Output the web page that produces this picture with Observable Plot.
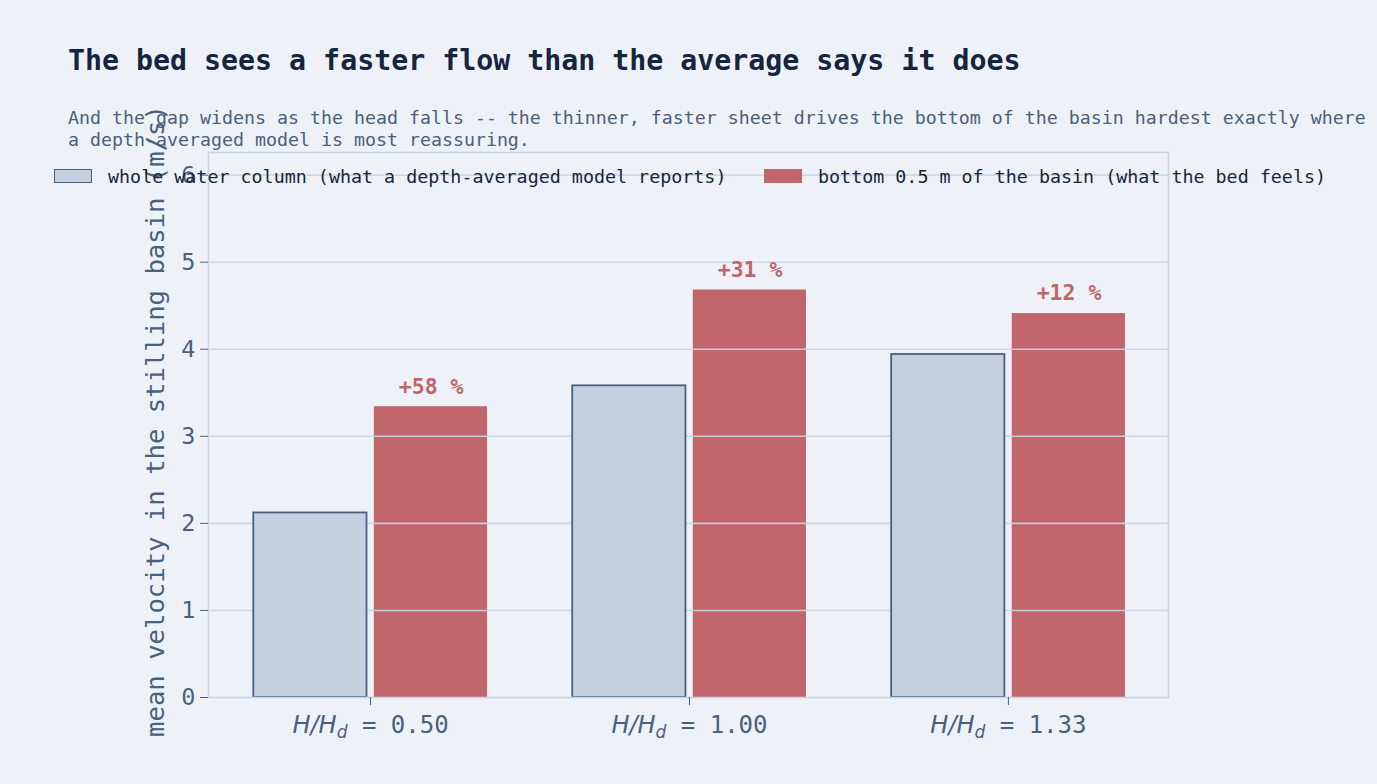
<!DOCTYPE html>
<html>
<head>
<meta charset="utf-8">
<script src="https://cdn.jsdelivr.net/npm/d3@7"></script>
<script src="https://cdn.jsdelivr.net/npm/@observablehq/plot@0.6"></script>
<style>
  html, body { margin: 0; padding: 0; background: #eef2f8; }
  #wrap { position: relative; width: 1377px; height: 784px; overflow: hidden; background: #eef2f8; }
  #chart { position: absolute; left: 0; top: 0; }
  .title { position: absolute; left: 68px; top: 44px; font-family: "DejaVu Sans Mono", monospace; font-weight: bold; font-size: 28.25px; color: #14263f; white-space: nowrap; }
  .subtitle { position: absolute; left: 68px; top: 107px; font-family: "DejaVu Sans Mono", monospace; font-size: 18.28px; line-height: 22px; color: #4a607e; white-space: nowrap; }
  .legend { position: absolute; top: 165px; left: 0; font-family: "DejaVu Sans Mono", monospace; font-size: 18.35px; color: #14263f; white-space: nowrap; }
  .legend .item { position: absolute; top: 0; display: flex; align-items: center; height: 22px; }
  .legend .sw { display: inline-block; width: 38px; height: 12px; margin-right: 16px; }
</style>
</head>
<body>
<div id="wrap">
  <div id="chart"></div>
  <div class="title">The bed sees a faster flow than the average says it does</div>
  <div class="subtitle">And the gap widens as the head falls -- the thinner, faster sheet drives the bottom of the basin hardest exactly where<br>a depth-averaged model is most reassuring.</div>
  <div class="legend" id="legend"></div>
</div>
<script>
// ---- data ----
const ratios = ["0.50", "1.00", "1.33"];          // H/Hd categories
const wholeColumn = [2.12, 3.58, 3.94];           // m/s, depth-averaged
const bottomLayer = [3.34, 4.68, 4.41];           // m/s, bottom 0.5 m
const gainPct = [58, 31, 12];                     // % labels
const seriesNames = [
  "whole water column (what a depth-averaged model reports)",
  "bottom 0.5 m of the basin (what the bed feels)"
];
const yTicks = [0, 1, 2, 3, 4, 5, 6];

const blueFill = "#c2d0e0", blueStroke = "#4a607e", red = "#c0666a";
const gridColor = "#c9d5e3", inkSoft = "#4a607e";

const rowsB = ratios.map((r, i) => ({i, v: wholeColumn[i]}));
const rowsR = ratios.map((r, i) => ({i, v: bottomLayer[i], p: gainPct[i]}));

const plot = Plot.plot({
  width: 1377,
  height: 784,
  marginTop: 152,
  marginBottom: 87,
  marginLeft: 208,
  marginRight: 209,
  style: {background: "transparent", fontFamily: "DejaVu Sans Mono", color: inkSoft},
  x: {type: "linear", domain: [-0.508, 2.502], axis: null},
  y: {domain: [0, 6.26], axis: null},
  marks: [
    Plot.rectY(rowsR, {x1: d => d.i + 0.012, x2: d => d.i + 0.367, y1: 0, y2: "v", fill: red}),
    Plot.gridY(yTicks.slice(1), {stroke: gridColor, strokeOpacity: 0.9, strokeWidth: 1.6}),
    Plot.rectY(rowsB, {x1: d => d.i - 0.366, x2: d => d.i - 0.011, y1: 0, y2: "v", fill: blueFill, stroke: blueStroke, strokeWidth: 1.8}),
    Plot.text(rowsR, {x: d => d.i + 0.19, y: "v", text: d => `+${d.p} %`, dy: -20, fill: red, fontWeight: "bold", fontSize: 21.5, fontFamily: "DejaVu Sans Mono"}),
    Plot.frame({stroke: "#c5d3e3", strokeWidth: 1.6}),
    Plot.axisY(yTicks, {anchor: "left", tickSize: 8, tickPadding: 5, fontSize: 23.5, stroke: inkSoft, fill: inkSoft, label: null, tickFormat: d => String(d)}),
    Plot.axisX([0, 1, 2], {anchor: "bottom", tickSize: 8, tickPadding: 10, fontSize: 24, stroke: inkSoft, fill: inkSoft, label: null, tickFormat: i => ratios[i]})
  ]
});
document.getElementById("chart").appendChild(plot);

// math-style tick labels: H/H_d = value
const svg = d3.select(plot);
svg.selectAll('[aria-label="x-axis tick label"] text').each(function() {
  const val = this.textContent;
  const t = d3.select(this);
  t.text(null);
  t.append("tspan").attr("font-family", "DejaVu Sans").attr("font-style", "italic").text("H/H");
  t.append("tspan").attr("font-family", "DejaVu Sans").attr("font-style", "italic").attr("font-size", "17").attr("dy", "5").text("d");
  t.append("tspan").attr("dy", "-5").text(" = " + val);
});

// y-axis label
svg.append("text")
  .attr("transform", "translate(157,421) rotate(-90)")
  .attr("text-anchor", "middle")
  .attr("dominant-baseline", "middle")
  .attr("font-family", "DejaVu Sans Mono")
  .attr("font-size", 25.6)
  .attr("fill", inkSoft)
  .text("mean velocity in the stilling basin (m/s)");

// legend
const leg = d3.select("#legend");
const items = [
  {name: seriesNames[0], fill: blueFill, stroke: blueStroke, left: 54},
  {name: seriesNames[1], fill: red, stroke: red, left: 764}
];
items.forEach(it => {
  const d = leg.append("div").attr("class", "item").style("left", it.left + "px");
  d.append("span").attr("class", "sw")
    .style("background", it.fill)
    .style("box-sizing", "border-box")
    .style("border", `1.6px solid ${it.stroke}`)
    .style("height", "14px");
  d.append("span").text(it.name);
});
</script>
</body>
</html>
